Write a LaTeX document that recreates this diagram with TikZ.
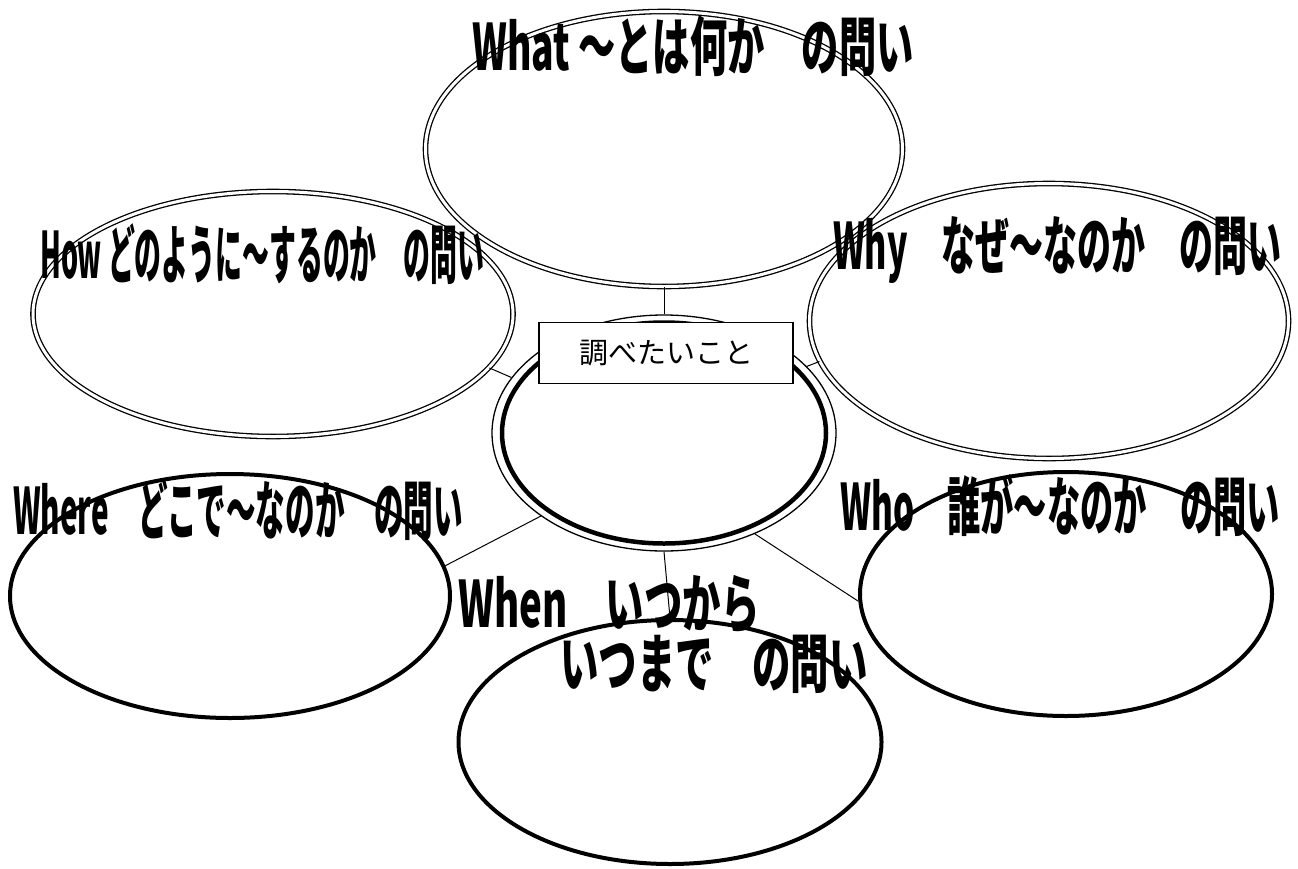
\documentclass[tikz,border=0pt]{standalone}
\usepackage{graphicx}
\usepackage{fontspec}
\newfontfamily\qfont[FakeStretch=0.6]{Noto Sans CJK JP}
\newfontfamily\jpfont{Noto Sans CJK JP}
\usetikzlibrary{shapes.geometric}

\begin{document}
\begin{tikzpicture}[x=1pt, y=-1pt,
    dbl/.style = {draw, ellipse, double, double distance=3pt, line width=1.3pt, inner sep=0pt},
    thk/.style = {draw, ellipse, line width=4pt, inner sep=0pt},
    ask/.style = {font=\qfont\bfseries\fontsize{64}{60}\selectfont, inner sep=0pt, anchor=west},
    con/.style = {line width=1pt}]
    \useasboundingbox (0,0) rectangle (1298,868);
    % the six questions
    \node[dbl, minimum width=477pt, minimum height=275pt](what) at (664,149){};
    \node[dbl, minimum width=480pt, minimum height=245pt](how) at (273,314){};
    \node[dbl, minimum width=479pt, minimum height=275pt](why) at (1049,321){};
    \node[thk, minimum width=440pt, minimum height=244pt](where) at (230,596){};
    \node[thk, minimum width=423pt, minimum height=244pt](when) at (670,742){};
    \node[thk, minimum width=412pt, minimum height=244pt](who) at (1066,594){};
    % centre
    \node[draw, ellipse, line width=1.3pt, minimum width=344pt, minimum height=236pt](cen) at (664,433){};
    \node[thk, line width=4.5pt, minimum width=324pt, minimum height=221pt](cenin) at (cen){};
    \draw[con] (cen.north) -- (what.south);
    \draw[con] (cen.160) -- (how.-14);
    \draw[con] (cen.25) -- (why.190);
    \draw[con] (cen.214) -- (where.8);
    \draw[con] (cen.south) -- (when.north);
    \draw[con] (cen.-48) -- (who.182);
    \node[draw, fill=white, line width=1.3pt, minimum width=254pt, minimum height=61pt,
          font=\jpfont\fontsize{29}{30}\selectfont](topic) at (666,353){調べたいこと};
    % labels
    \node[ask](whatlbl) at (472,46){\scalebox{0.97}[1]{What ～とは何か　の問い}};
    \node[ask](howlbl) at (40,254){\scalebox{0.70}[1]{How どのように～するのか　の問い}};
    \node[ask](whylbl) at (833,250){\scalebox{0.885}[1]{Why　なぜ～なのか　の問い}};
    \node[ask](wherelbl) at (13,510){\scalebox{0.77}[1]{Where　どこで～なのか　の問い}};
    \node[ask](wholbl) at (840,505){\scalebox{0.865}[1]{Who　誰が～なのか　の問い}};
    \node[ask, align=left](whenlbl) at (458,634){When　いつから\\\hspace*{102pt}いつまで　の問い};
\end{tikzpicture}
\end{document}
